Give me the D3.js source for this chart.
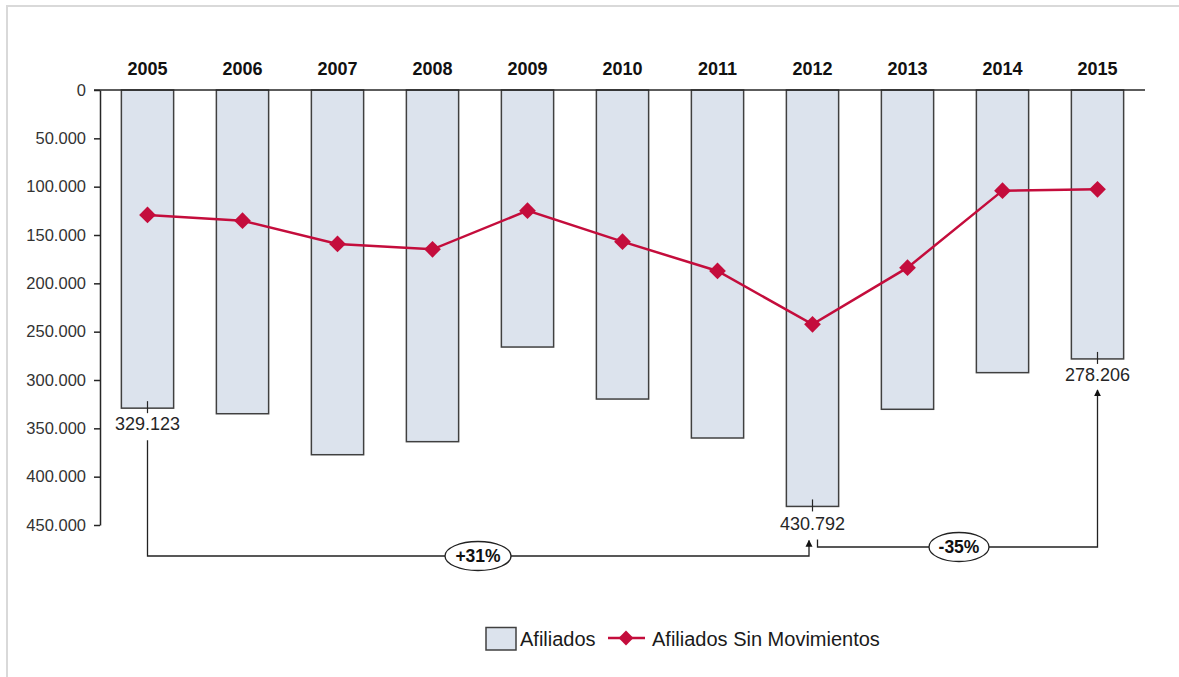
<!DOCTYPE html>
<html>
<head>
<meta charset="utf-8">
<script src="https://cdn.jsdelivr.net/npm/d3@7"></script>
<style>
  html, body { margin: 0; padding: 0; background: #fff; }
  svg { display: block; }
  text { font-family: "Liberation Sans", Arial, sans-serif; }
</style>
</head>
<body>
<svg id="chart" width="1179" height="677"></svg>
<script>
// ---- data ----
const years = ["2005","2006","2007","2008","2009","2010","2011","2012","2013","2014","2015"];
const afiliados = [329123, 334900, 377300, 363800, 265900, 319700, 360000, 430792, 330300, 292400, 278206];
const sinMovimientos = [129300, 135200, 159300, 164800, 124800, 156900, 187200, 242400, 183800, 104100, 102700];
const yTicks = [0, 50000, 100000, 150000, 200000, 250000, 300000, 350000, 400000, 450000];
const seriesNames = ["Afiliados", "Afiliados Sin Movimientos"];

const es = d3.formatLocale({decimal: ",", thousands: ".", grouping: [3], currency: ["", "€"]});
const fmt = es.format(",d");

const svg = d3.select("#chart");
const barFill = "#dce3ed", barStroke = "#404040", lineColor = "#c40d3c", ink = "#262626";

// frame
svg.append("rect").attr("x", 7).attr("y", 6).attr("width", 1200).attr("height", 700)
  .attr("fill", "none").attr("stroke", "#d9d9d9").attr("stroke-width", 2);

const x = d3.scaleBand().domain(years).range([100, 1145]).paddingInner(0.45).paddingOuter(0.225);
const y = d3.scaleLinear().domain([0, 450000]).range([90, 525]);

// bars
svg.append("g").selectAll("rect").data(years).join("rect")
  .attr("x", d => x(d))
  .attr("y", y(0))
  .attr("width", x.bandwidth())
  .attr("height", (d, i) => y(afiliados[i]) - y(0))
  .attr("fill", barFill).attr("stroke", barStroke).attr("stroke-width", 1.5);

// y axis
const yAxis = d3.axisLeft(y).tickValues(yTicks).tickSize(6).tickSizeOuter(0).tickFormat(d => fmt(d));
const gy = svg.append("g").attr("transform", "translate(100,0)").call(yAxis);
gy.select(".domain").attr("stroke", ink).attr("stroke-width", 1.5);
gy.selectAll(".tick line").attr("stroke", ink).attr("stroke-width", 1.5);
gy.selectAll(".tick text").attr("x", -14).attr("fill", "#333").style("font-size", "16.5px")
  .style("font-family", "'Liberation Sans', Arial, sans-serif");

// x axis on top
const xAxis = d3.axisTop(x).tickSize(0).tickSizeOuter(0);
const gx = svg.append("g").attr("transform", "translate(0,90)").call(xAxis);
gx.select(".domain").attr("d", "M94,0H1145").attr("stroke", ink).attr("stroke-width", 1.5);
gx.selectAll(".tick text").attr("y", -15).attr("fill", "#111").style("font-size", "18px")
  .style("font-weight", "bold").style("font-family", "'Liberation Sans', Arial, sans-serif");

// line
const cx = d => x(d) + x.bandwidth() / 2;
const lineGen = d3.line().x((d, i) => cx(years[i])).y(d => y(d));
svg.append("path").datum(sinMovimientos).attr("d", lineGen)
  .attr("fill", "none").attr("stroke", lineColor).attr("stroke-width", 2.5);
svg.append("g").selectAll("path").data(sinMovimientos).join("path")
  .attr("transform", (d, i) => `translate(${cx(years[i])},${y(d)}) rotate(45)`)
  .attr("d", d3.symbol().type(d3.symbolSquare).size(140))
  .attr("fill", lineColor);

// annotations
const iFirst = 0, iMax = afiliados.indexOf(d3.max(afiliados)), iLast = afiliados.length - 1;
const ann = svg.append("g");
function valueLabel(i, dy) {
  const xc = cx(years[i]), yb = y(afiliados[i]);
  ann.append("line").attr("x1", xc).attr("x2", xc).attr("y1", yb - 7).attr("y2", yb + 5)
    .attr("stroke", ink).attr("stroke-width", 1.2);
  ann.append("text").attr("x", xc).attr("y", yb + dy).attr("text-anchor", "middle")
    .attr("fill", "#262626").style("font-size", "18px").text(fmt(afiliados[i]));
}
valueLabel(iFirst, 22);
valueLabel(iMax, 24);
valueLabel(iLast, 22);

svg.append("defs").append("marker").attr("id", "arr").attr("viewBox", "0 0 10 10")
  .attr("refX", 9).attr("refY", 5).attr("markerWidth", 7).attr("markerHeight", 8)
  .attr("markerUnits", "userSpaceOnUse").attr("orient", "auto")
  .append("path").attr("d", "M0,0L10,5L0,10Z").attr("fill", "#111");

function pct(a, b) { const v = Math.round((b / a - 1) * 100); return (v > 0 ? "+" : "") + v + "%"; }

// +31% connector
const x0 = cx(years[iFirst]), xm = cx(years[iMax]), xl = cx(years[iLast]);
const yA = 556;
ann.append("path").attr("d", `M${x0},${y(afiliados[iFirst]) + 32}V${yA}H${xm - 3.5}V${y(afiliados[iMax]) + 34}`)
  .attr("fill", "none").attr("stroke", "#222").attr("stroke-width", 1.3).attr("marker-end", "url(#arr)");
// -35% connector
const yB = 547;
ann.append("path").attr("d", `M${xm + 5},${y(afiliados[iMax]) + 33}V${yB}H${xl}V${y(afiliados[iLast]) + 31}`)
  .attr("fill", "none").attr("stroke", "#222").attr("stroke-width", 1.3).attr("marker-end", "url(#arr)");

function badge(xc, yc, rx, txt) {
  ann.append("ellipse").attr("cx", xc).attr("cy", yc).attr("rx", rx).attr("ry", 14.5)
    .attr("fill", "#fff").attr("stroke", "#222").attr("stroke-width", 1.3);
  ann.append("text").attr("x", xc).attr("y", yc + 6).attr("text-anchor", "middle")
    .attr("fill", "#111").style("font-size", "17.5px").style("font-weight", "bold").text(txt);
}
badge(478, yA, 33, pct(afiliados[iFirst], afiliados[iMax]));
badge(959, yB, 30, pct(afiliados[iMax], afiliados[iLast]));

// legend
const lg = svg.append("g");
lg.append("rect").attr("x", 486).attr("y", 627.5).attr("width", 30).attr("height", 22.5)
  .attr("fill", barFill).attr("stroke", barStroke).attr("stroke-width", 1.5);
lg.append("text").attr("x", 520).attr("y", 646).attr("fill", "#1a1a1a").style("font-size", "20px").text(seriesNames[0]);
lg.append("line").attr("x1", 608).attr("x2", 645).attr("y1", 638).attr("y2", 638)
  .attr("stroke", lineColor).attr("stroke-width", 2.5);
lg.append("path").attr("transform", "translate(626,638) rotate(45)")
  .attr("d", d3.symbol().type(d3.symbolSquare).size(110)).attr("fill", lineColor);
lg.append("text").attr("x", 652).attr("y", 646).attr("fill", "#1a1a1a").style("font-size", "20px").text(seriesNames[1]);
</script>
</body>
</html>
